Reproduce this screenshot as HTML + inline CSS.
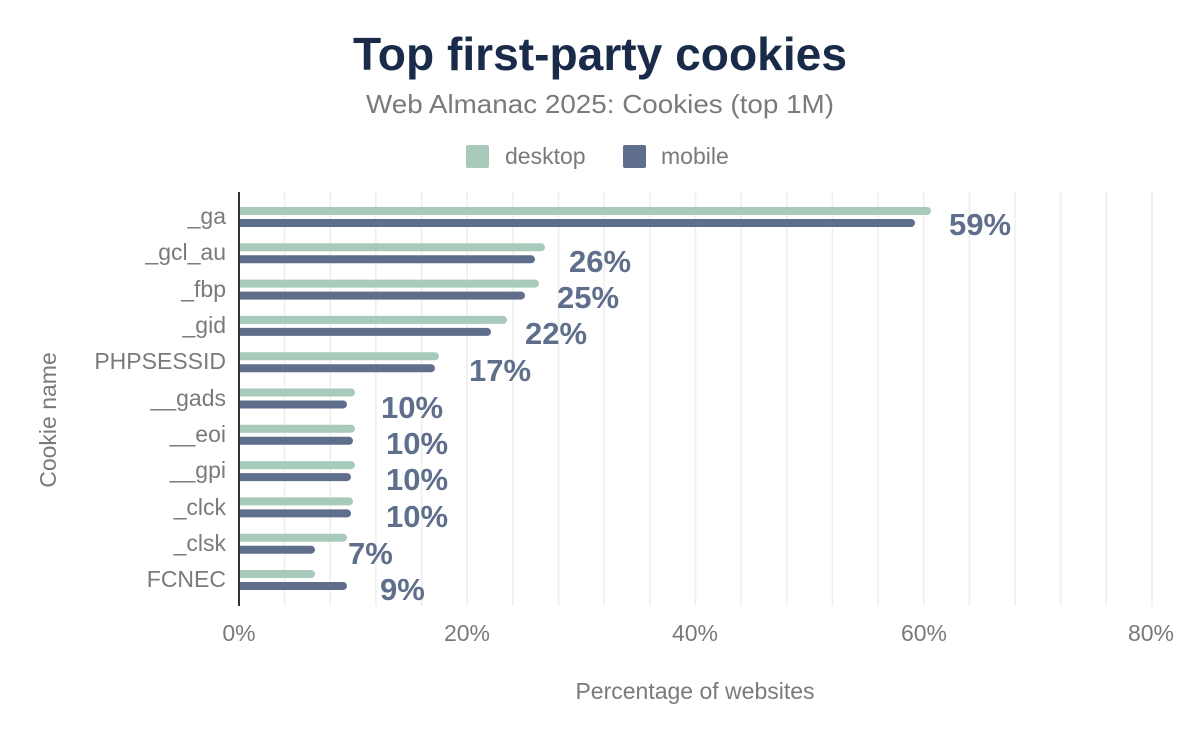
<!DOCTYPE html>
<html><head><meta charset="utf-8"><style>
html,body{margin:0;padding:0;background:#fff;}
svg{display:block;font-family:"Liberation Sans",Arial,sans-serif;}
</style></head><body>
<svg width="1200" height="742" viewBox="0 0 1200 742" xmlns="http://www.w3.org/2000/svg">
<defs><clipPath id="c"><rect x="239" y="180" width="961" height="440"/></clipPath></defs>
<rect width="1200" height="742" fill="#fff"/>
<text x="600" y="70" text-anchor="middle" font-size="46" font-weight="bold" fill="#1a2b4a" textLength="494" lengthAdjust="spacingAndGlyphs">Top first-party cookies</text>
<text x="600" y="113" text-anchor="middle" font-size="26" fill="#7a7a7a" textLength="468" lengthAdjust="spacingAndGlyphs">Web Almanac 2025: Cookies (top 1M)</text>
<rect x="466" y="145" width="23" height="23" rx="2" fill="#a8cabb"/>
<text x="505" y="164" font-size="23" fill="#7a7a7a">desktop</text>
<rect x="623" y="145" width="23" height="23" rx="2" fill="#5f6f8b"/>
<text x="661" y="164" font-size="23" fill="#7a7a7a">mobile</text>
<g stroke="#eeeeee" stroke-width="1.5">
<line x1="284.6" y1="192" x2="284.6" y2="606"/><line x1="330.3" y1="192" x2="330.3" y2="606"/><line x1="375.9" y1="192" x2="375.9" y2="606"/><line x1="421.6" y1="192" x2="421.6" y2="606"/><line x1="467.2" y1="192" x2="467.2" y2="606"/><line x1="512.9" y1="192" x2="512.9" y2="606"/><line x1="558.5" y1="192" x2="558.5" y2="606"/><line x1="604.2" y1="192" x2="604.2" y2="606"/><line x1="649.8" y1="192" x2="649.8" y2="606"/><line x1="695.5" y1="192" x2="695.5" y2="606"/><line x1="741.1" y1="192" x2="741.1" y2="606"/><line x1="786.8" y1="192" x2="786.8" y2="606"/><line x1="832.4" y1="192" x2="832.4" y2="606"/><line x1="878.1" y1="192" x2="878.1" y2="606"/><line x1="923.7" y1="192" x2="923.7" y2="606"/><line x1="969.4" y1="192" x2="969.4" y2="606"/><line x1="1015" y1="192" x2="1015" y2="606"/><line x1="1060.7" y1="192" x2="1060.7" y2="606"/><line x1="1106.3" y1="192" x2="1106.3" y2="606"/><line x1="1152" y1="192" x2="1152" y2="606"/>
</g>
<g clip-path="url(#c)">
<g fill="#a8cabb">
<rect x="231" y="207" width="700" height="8" rx="4"/>
<rect x="231" y="243.3" width="314" height="8" rx="4"/>
<rect x="231" y="279.6" width="308" height="8" rx="4"/>
<rect x="231" y="315.9" width="276" height="8" rx="4"/>
<rect x="231" y="352.2" width="208" height="8" rx="4"/>
<rect x="231" y="388.5" width="124" height="8" rx="4"/>
<rect x="231" y="424.8" width="124" height="8" rx="4"/>
<rect x="231" y="461.1" width="124" height="8" rx="4"/>
<rect x="231" y="497.4" width="122" height="8" rx="4"/>
<rect x="231" y="533.7" width="116" height="8" rx="4"/>
<rect x="231" y="570" width="84" height="8" rx="4"/>
</g>
<g fill="#5f6f8b">
<rect x="231" y="219" width="684" height="8" rx="4"/>
<rect x="231" y="255.3" width="304" height="8" rx="4"/>
<rect x="231" y="291.6" width="294" height="8" rx="4"/>
<rect x="231" y="327.9" width="260" height="8" rx="4"/>
<rect x="231" y="364.2" width="204" height="8" rx="4"/>
<rect x="231" y="400.5" width="116" height="8" rx="4"/>
<rect x="231" y="436.8" width="122" height="8" rx="4"/>
<rect x="231" y="473.1" width="120" height="8" rx="4"/>
<rect x="231" y="509.4" width="120" height="8" rx="4"/>
<rect x="231" y="545.7" width="84" height="8" rx="4"/>
<rect x="231" y="582" width="116" height="8" rx="4"/>
</g>
</g>
<line x1="239" y1="192" x2="239" y2="606" stroke="#333" stroke-width="2"/>
<g font-size="23" fill="#7a7a7a" text-anchor="end">
<text x="226" y="224">_ga</text><text x="226" y="260">_gcl_au</text><text x="226" y="297">_fbp</text><text x="226" y="333">_gid</text><text x="226" y="369">PHPSESSID</text><text x="226" y="406">__gads</text><text x="226" y="442">__eoi</text><text x="226" y="478">__gpi</text><text x="226" y="515">_clck</text><text x="226" y="551">_clsk</text><text x="226" y="587">FCNEC</text>
</g>
<text transform="translate(56,420) rotate(-90)" text-anchor="middle" font-size="23" fill="#7a7a7a">Cookie name</text>
<g font-size="23" fill="#7a7a7a" text-anchor="middle">
<text x="239" y="641">0%</text><text x="467" y="641">20%</text><text x="695" y="641">40%</text><text x="924" y="641">60%</text><text x="1151" y="641">80%</text>
</g>
<text x="695" y="699" text-anchor="middle" font-size="23" fill="#7a7a7a">Percentage of websites</text>
<g font-size="31" font-weight="bold" fill="#5f6f8b">
<text x="949" y="235">59%</text><text x="569" y="272">26%</text><text x="557" y="308">25%</text><text x="525" y="344">22%</text><text x="469" y="381">17%</text><text x="381" y="418">10%</text><text x="386" y="454">10%</text><text x="386" y="490">10%</text><text x="386" y="527">10%</text><text x="348" y="564">7%</text><text x="380" y="600">9%</text>
</g>
</svg>
</body></html>
